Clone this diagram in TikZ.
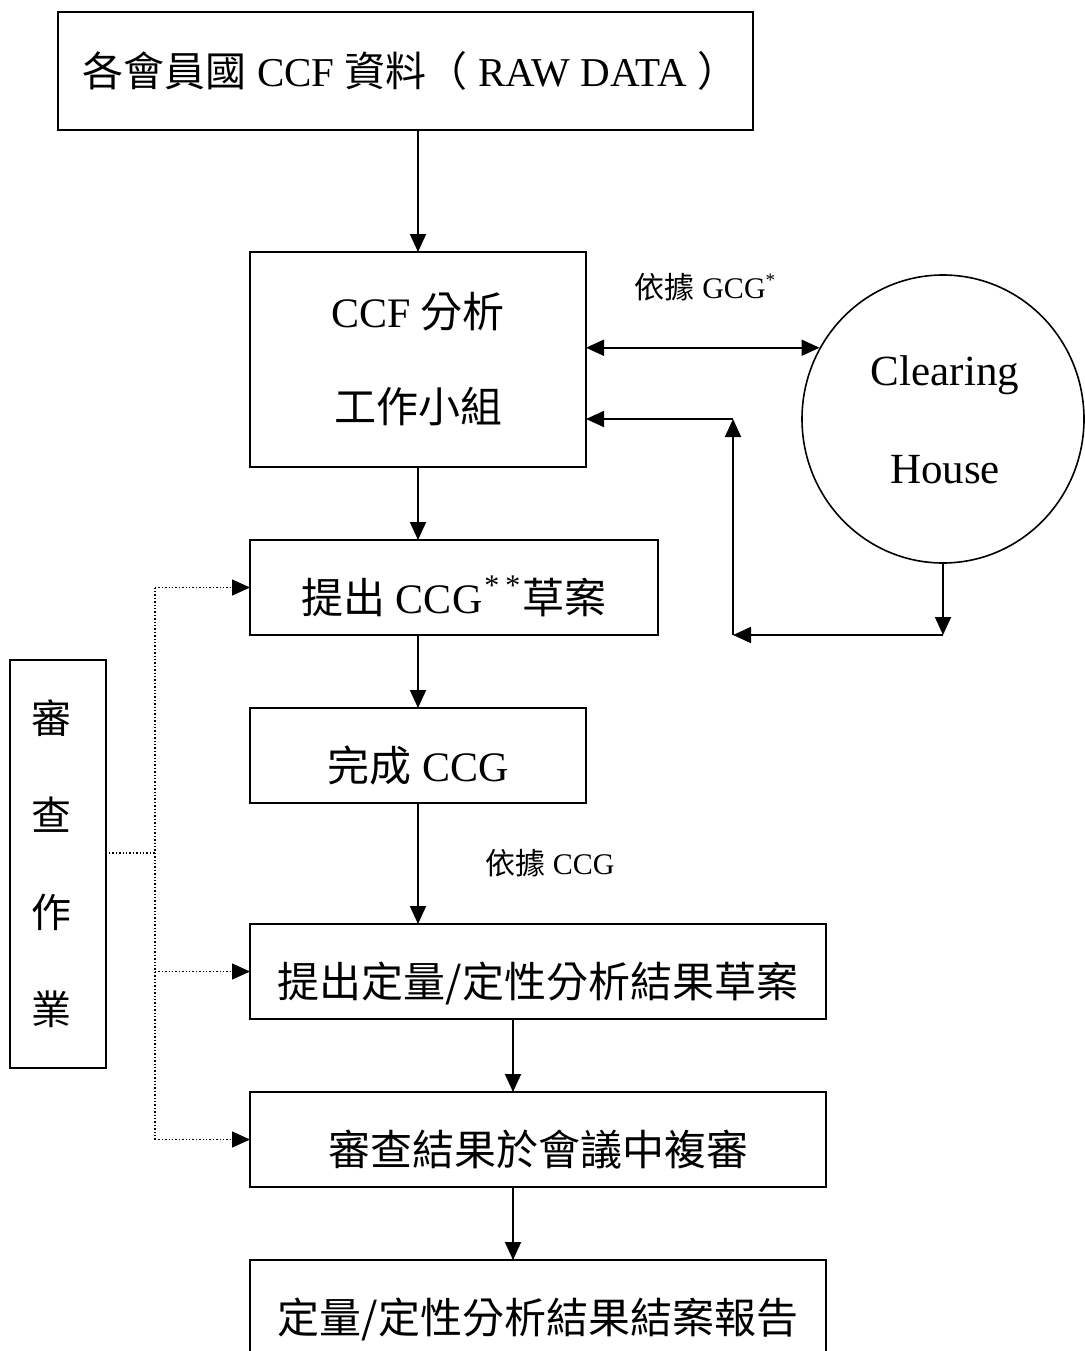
\documentclass[tikz,border=0pt]{standalone}
\usepackage{fontspec}
\setmainfont{Liberation Serif}
\newfontfamily\cjk{Noto Sans CJK TC}
\usetikzlibrary{arrows.meta,shapes.geometric,calc}
\newcommand{\twostar}{\hspace{0.05em}\raisebox{0.42em}{\fontsize{30}{30}\selectfont *\hspace{0.2em}*}\hspace{0.05em}}
\newcommand{\rvch}[1]{\makebox[54pt][l]{#1}}
\begin{document}
\begin{tikzpicture}[x=1pt,y=-1pt,
  box/.style={draw,line width=1.8pt,inner sep=0pt,outer sep=0pt,align=center,font=\fontsize{42}{42}\selectfont},
  low/.style={text height=52pt,text depth=0pt},
  arr/.style={line width=1.8pt,-{Triangle[length=18pt,width=16pt]}},
  arrb/.style={line width=1.8pt,{Triangle[length=18pt,width=16pt]}-{Triangle[length=18pt,width=16pt]}},
  dot/.style={line width=1.4pt,dotted},
  lbl/.style={font=\fontsize{30}{30}\selectfont,inner sep=0pt}]
\useasboundingbox (0,0) rectangle (1084,1351);
\node[box,minimum width=695,minimum height=118,font=\fontsize{41}{41}\selectfont] (b1) at (405.5,71) {\hspace*{10pt}{\cjk 各會員國} CCF {\cjk 資料（} RAW DATA {\cjk ）}};
\node[box,minimum width=336,minimum height=215,font=\fontsize{42}{95}\selectfont] (b2) at (418,359.5) {CCF {\cjk 分析}\\{\cjk 工作小組}};
\node[box,low,minimum width=408,minimum height=95] (b3) at (454,587.5) {{\cjk 提出} CCG\twostar{\cjk 草案}};
\node[box,low,minimum width=336,minimum height=95] (b4) at (418,755.5) {{\cjk 完成} CCG};
\node[box,low,minimum width=576,minimum height=95] (b5) at (538,971.5) {\cjk 提出定量/定性分析結果草案};
\node[box,low,minimum width=576,minimum height=95] (b6) at (538,1139.5) {\cjk 審查結果於會議中複審};
\node[box,low,minimum width=576,minimum height=95] (b7) at (538,1307.5) {\cjk 定量/定性分析結果結案報告};
\node[box,minimum width=96,minimum height=408,font=\fontsize{40}{97}\selectfont\cjk] (rv) at (58,864) {\rvch{審}\\\rvch{查}\\\rvch{作}\\\rvch{業}};
\node[draw,ellipse,line width=1.6pt,minimum width=282,minimum height=288,inner sep=0pt] (ch) at (943,419) {};
\node[font=\fontsize{43}{43}\selectfont] (cl) at (945,375) {Clearing};
\node[font=\fontsize{43}{43}\selectfont] (ho) at (945,470) {House};
\node[lbl] (l1) at (705,287) {{\cjk 依據} GCG\raisebox{0.4em}{\fontsize{19}{19}\selectfont *}};
\node[lbl] (l2) at (550,863) {{\cjk 依據} CCG};
% main flow
\draw[arr] (b2.north |- b1.south) -- (b2.north);
\draw[arr] (b2.south) -- (b2.south |- b3.north);
\draw[arr] (b4.north |- b3.south) -- (b4.north);
\draw[arr] (b4.south) -- (b4.south |- b5.north);
\draw[arr] ([xshift=-25pt]b5.south) -- ([xshift=-25pt]b6.north);
\draw[arr] ([xshift=-25pt]b6.south) -- ([xshift=-25pt]b7.north);
% clearing house loop
\draw[arrb] (b2.east |- ch.150) -- (ch.150);
\coordinate (c1) at (ch.south |- b3.south);
\coordinate (c2) at (733,635);
\coordinate (c3) at (733,419);
\draw[arr] (ch.south) -- (c1);
\draw[arr] (c1) -- (c2);
\draw[arr] (c2) -- (c3);
\draw[arr] (c3) -- (c3 -| b2.east);
% review dotted
\coordinate (d0) at (155,853);
\draw[dot] ([xshift=3pt]rv.east |- d0) -- (d0);
\draw[dot] (d0 |- b3.west) -- (d0 |- b6.west);
\draw[arr,dot] (d0 |- b3.west) -- (b3.west);
\draw[arr,dot] (d0 |- b5.west) -- (b5.west);
\draw[arr,dot] (d0 |- b6.west) -- (b6.west);
\end{tikzpicture}
\end{document}
